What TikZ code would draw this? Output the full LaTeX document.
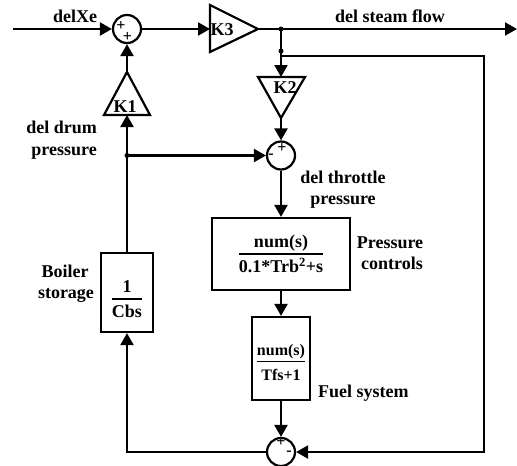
\documentclass[tikz,border=0pt]{standalone}
\usepackage{fontspec}
\setmainfont{Liberation Serif}
\usetikzlibrary{arrows.meta}
\newcommand\myfrac[2]{{\setlength\arrayrulewidth{1.4pt}\begin{tabular}[t]{@{}c@{}}#1\\\hline\rule{0pt}{18pt}#2\end{tabular}}}
\begin{document}
\begin{tikzpicture}[x=1pt,y=-1pt,
  wire/.style={line width=2.2pt},
  arr/.style={wire,-{Triangle[length=12pt,width=13pt]}},
  blk/.style={draw,line width=2.2pt,inner sep=0pt},
  sumn/.style={circle,draw,line width=2.2pt,minimum size=28pt,inner sep=0pt},
  lbl/.style={font=\fontsize{18}{21}\selectfont\bfseries,inner sep=0pt},
  flbl/.style={font=\fontsize{16}{19}\selectfont\bfseries,inner sep=0pt},
  sgn/.style={font=\fontsize{16}{16}\selectfont\bfseries,inner sep=0pt},
  jdot/.style={circle,fill,minimum size=5pt,inner sep=0pt}]
\fill[white] (0,0) rectangle (517,466);
\useasboundingbox (0,0) rectangle (517,466);

% summing junctions
\node[sumn] (s1) at (127,29) {};
\node[sumn] (s2) at (281,155.5) {};
\node[sumn] (s3) at (281,452) {};
\node[sgn] (s1a) at (121,26) {+};
\node[sgn] (s1b) at (127.5,37) {+};
\node[sgn] (s2a) at (282,148) {+};
\node[sgn] (s2b) at (271,156) {-};
\node[sgn] (s3a) at (281,442) {+};
\node[sgn] (s3b) at (289,453) {-};

% gains
\draw[blk] (210,5) -- (258,29) -- (210,52) -- cycle;
\coordinate (k3in) at (210,29);
\coordinate (k3out) at (258,29);
\node[lbl,anchor=base] (k3) at (222,35) {K3};

\draw[blk] (258,77) -- (305,77) -- (281,118) -- cycle;
\coordinate (k2in) at (281,77);
\coordinate (k2out) at (281,118);
\node[lbl,anchor=base] (k2) at (285,93) {K2};

\draw[blk] (127,72) -- (150,115) -- (104,115) -- cycle;
\coordinate (k1in) at (127,115);
\coordinate (k1out) at (127,72);
\node[lbl,anchor=base] (k1) at (125,112) {K1};

% transfer blocks
\node[blk,minimum width=138pt,minimum height=72pt] (pc) at (281,254) {};
\node[lbl,anchor=base] (pctf) at (281,247) {\myfrac{num(s)}{0.1*Trb\textsuperscript{2}+s}};
\node[blk,minimum width=58pt,minimum height=83pt] (fs) at (281,358.5) {};
\node[flbl,anchor=base] (fstf) at (281,355) {\myfrac{num(s)}{Tfs+1}};
\node[blk,minimum width=52pt,minimum height=79pt] (cbs) at (127,292.5) {};
\node[lbl,anchor=base] (cbstf) at (127,292) {\myfrac{1}{Cbs}};

% coordinates
\coordinate (in) at (13,29);
\coordinate (out) at (517,29);
\coordinate (j1) at (281,29);
\coordinate (jd) at (281,51);
\coordinate (j2) at (281,56);
\coordinate (rb) at (484,452);
\coordinate (j3) at (127,155.5);

% connectors
\draw[arr] (in) -- (s1.west);
\draw[arr] (s1.east) -- (k3in);
\draw[arr] (k3out) -- (out);
\draw[arr] (j1) -- (k2in);
\draw[arr] (j2) -| (rb) -- (s3.east);
\draw[arr] (k2out) -- (s2.north);
\draw[arr] (s2.south) -- (pc.north);
\draw[arr] (pc.south) -- (fs.north);
\draw[arr] (fs.south) -- (s3.north);
\draw[arr] (s3.west) -| (cbs.south);
\draw[arr] (cbs.north) -- (k1in);
\draw[arr] (k1out) -- (s1.south);
\draw[arr] (j3) -- (s2.west);
\node[jdot] (d1) at (j1) {};
\node[jdot] (d2) at (jd) {};
\node[jdot] (d3) at (j3) {};

% labels
\node[lbl,anchor=base] (lxe) at (75,22) {delXe};
\node[lbl,anchor=base] (lsf) at (390,22) {del steam flow};
\node[lbl,anchor=base east] (ldd1) at (97,133) {del drum};
\node[lbl,anchor=base east] (ldd2) at (97,155) {pressure};
\node[lbl,anchor=base] (ldt1) at (343,183) {del throttle};
\node[lbl,anchor=base] (ldt2) at (343,204) {pressure};
\node[lbl,anchor=base] (lpc1) at (390,248) {Pressure};
\node[lbl,anchor=base] (lpc2) at (392,269) {controls};
\node[lbl,anchor=base] (lbs1) at (65,277) {Boiler};
\node[lbl,anchor=base] (lbs2) at (66,298) {storage};
\node[lbl,anchor=base west] (lfs) at (318,397) {Fuel system};
\end{tikzpicture}
\end{document}
